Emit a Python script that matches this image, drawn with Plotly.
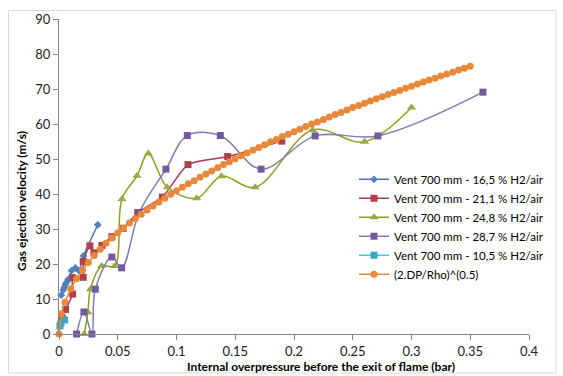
import plotly.graph_objects as go

# ---- data ----
x_165 = [0.0019, 0.0036, 0.0045, 0.0055, 0.0065, 0.0078, 0.0107, 0.0140, 0.0170, 0.0208, 0.0330]
v_165 = [11.1, 12.6, 13.3, 14.2, 14.8, 15.6, 18.1, 18.9, 18.1, 22.3, 31.2]

x_211 = [0.0028, 0.0056, 0.0116, 0.0116, 0.0206, 0.0206, 0.0263, 0.0297, 0.0365, 0.0450, 0.0547, 0.0670, 0.0880, 0.1098, 0.1436, 0.1896]
v_211 = [4.6, 7.0, 11.4, 16.1, 16.2, 20.7, 25.2, 23.2, 25.3, 27.8, 30.2, 34.7, 39.1, 48.4, 50.7, 55.1]

x_248 = [0.0215, 0.0246, 0.0267, 0.0363, 0.0473, 0.0536, 0.0664, 0.0760, 0.0922, 0.1172, 0.1382, 0.1669, 0.2157, 0.2600, 0.3000]
v_248 = [0.0, 6.2, 12.8, 19.4, 19.4, 38.6, 45.2, 51.6, 41.9, 38.8, 45.1, 41.9, 58.3, 54.9, 64.7]

x_287 = [0.0150, 0.0212, 0.0280, 0.0309, 0.0450, 0.0533, 0.0683, 0.0910, 0.1092, 0.1373, 0.1720, 0.2180, 0.2714, 0.3608]
v_287 = [0.0, 6.3, 0.0, 12.8, 22.0, 18.9, 34.7, 47.1, 56.7, 56.7, 47.1, 56.6, 56.6, 69.1]

x_105 = [0.0008, 0.0016, 0.0048]
v_105 = [2.3, 3.1, 4.0]

x_th = [0, 0.002, 0.005, 0.01, 0.015, 0.02, 0.025, 0.03, 0.035, 0.04, 0.045, 0.05,
        0.055, 0.06, 0.065, 0.07, 0.075, 0.08, 0.085, 0.09, 0.095, 0.1,
        0.105, 0.11, 0.115, 0.12, 0.125, 0.13, 0.135, 0.14, 0.145, 0.15,
        0.155, 0.16, 0.165, 0.17, 0.175, 0.18, 0.185, 0.19, 0.195, 0.2,
        0.205, 0.21, 0.215, 0.22, 0.225, 0.23, 0.235, 0.24, 0.245, 0.25,
        0.255, 0.26, 0.265, 0.27, 0.275, 0.28, 0.285, 0.29, 0.295, 0.3,
        0.305, 0.31, 0.315, 0.32, 0.325, 0.33, 0.335, 0.34, 0.345, 0.35]
v_th = [0, 5.8, 9.1, 12.9, 15.8, 18.3, 20.4, 22.4, 24.2, 25.9, 27.4, 28.9,
        30.3, 31.7, 33.0, 34.2, 35.4, 36.6, 37.7, 38.8, 39.9, 40.9,
        41.9, 42.9, 43.8, 44.8, 45.7, 46.6, 47.5, 48.4, 49.2, 50.1,
        50.9, 51.7, 52.5, 53.3, 54.1, 54.9, 55.6, 56.4, 57.1, 57.8,
        58.5, 59.3, 60.0, 60.6, 61.3, 62.0, 62.7, 63.3, 64.0, 64.7,
        65.3, 65.9, 66.6, 67.2, 67.8, 68.4, 69.0, 69.6, 70.2, 70.8,
        71.4, 72.0, 72.6, 73.1, 73.7, 74.3, 74.8, 75.4, 75.9, 76.5]

names = ["Vent 700 mm - 16,5 % H2/air", "Vent 700 mm - 21,1 % H2/air",
         "Vent 700 mm - 24,8 % H2/air", "Vent 700 mm - 28,7 % H2/air",
         "Vent 700 mm - 10,5 % H2/air", "(2.DP/Rho)^(0.5)"]

FONT = "Lato"
fig = go.Figure()

def add(x, y, name, lc, mc, sym, ms, smooth, lw=1.5):
    fig.add_trace(go.Scatter(
        x=x, y=y, name=name, mode="lines+markers",
        line=dict(color=lc, width=lw, shape="spline" if smooth else "linear", smoothing=smooth if smooth else None),
        marker=dict(symbol=sym, size=ms, color=mc, line=dict(width=0)),
        cliponaxis=False))

add(x_165, v_165, names[0], "#4A72B0", "#4F81BD", "diamond", 6, 0.4)
add(x_211, v_211, names[1], "#A83A55", "#B0404C", "square", 7, 0.6)
add(x_248, v_248, names[2], "#949C1E", "#9AAA45", "triangle-up", 8, 1.0)
add(x_287, v_287, names[3], "#7C7DB4", "#73599E", "square", 7, 1.0)
add(x_105, v_105, names[4], "#44C8D0", "#3AA8BE", "square", 7, 0.5)
add(x_th, v_th, names[5], "#E8883A", "#E8883A", "circle", 7, 0, lw=1.5)

axis_common = dict(showgrid=False, zeroline=False, showline=True, linecolor="#868686",
                   linewidth=1, ticks="outside", ticklen=5, tickcolor="#868686",
                   tickfont=dict(family=FONT, size=13, color="#222222"))

fig.update_layout(
    width=563, height=376,
    margin=dict(l=59, r=34, t=19, b=42),
    paper_bgcolor="white", plot_bgcolor="white",
    font=dict(family=FONT, size=12, color="#000000"),
    xaxis=dict(range=[0, 0.4], tickvals=[0, 0.05, 0.1, 0.15, 0.2, 0.25, 0.3, 0.35, 0.4],
               ticktext=["0", "0.05", "0.1", "0.15", "0.2", "0.25", "0.3", "0.35", "0.4"], **axis_common),
    yaxis=dict(range=[0, 90], tickvals=[0, 10, 20, 30, 40, 50, 60, 70, 80, 90], **axis_common),
    showlegend=True,
    legend=dict(x=(354 - 59) / 470, y=0.537, xanchor="left", yanchor="top", bgcolor="rgba(0,0,0,0)",
                font=dict(family=FONT, size=11.5, color="#000000"), tracegroupgap=0,
                itemwidth=30),
    annotations=[
        dict(text="<b>Internal overpressure before the exit of flame (bar)</b>", xref="paper", yref="paper",
             x=(321 - 59) / 470, y=-(366 - 334) / 315, showarrow=False, xanchor="center", yanchor="middle",
             font=dict(family=FONT, size=12, color="#000000")),
        dict(text="<b>Gas ejection velocity (m/s)</b>", xref="paper", yref="paper",
             x=-(59 - 22) / 470, y=(334 - 201) / 315, showarrow=False, textangle=-90,
             xanchor="center", yanchor="middle", font=dict(family=FONT, size=12, color="#000000")),
    ],
    shapes=[dict(type="rect", xref="paper", yref="paper",
                 x0=-(59 - 8.5) / 470, x1=(556 - 59) / 470, y0=-(373 - 334) / 315, y1=(334 - 10.5) / 315,
                 line=dict(color="#D9D9D9", width=1), fillcolor="rgba(0,0,0,0)", layer="below")],
)

fig.write_html("out.html")
